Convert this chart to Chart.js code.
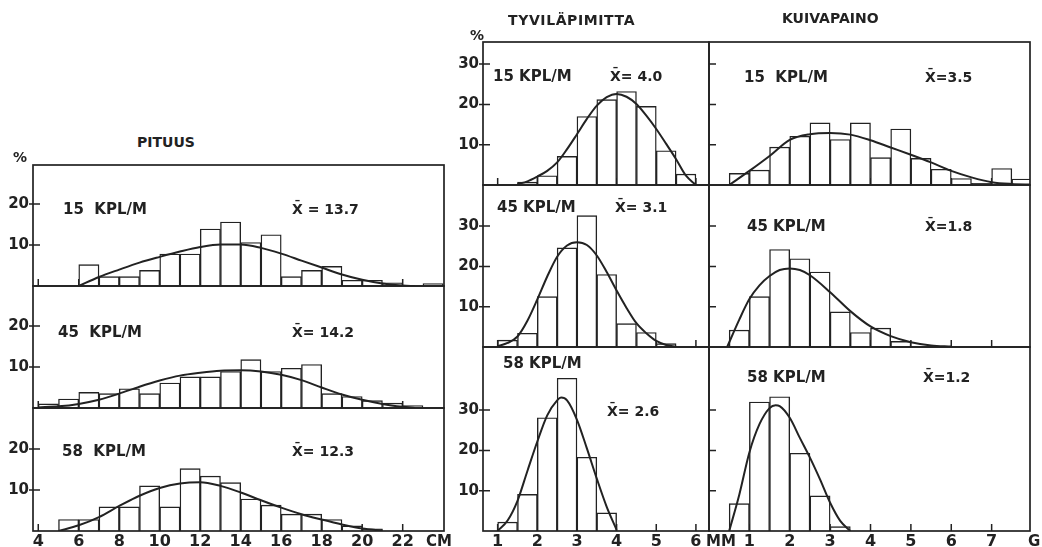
<!DOCTYPE html>
<html>
<head>
<meta charset="utf-8">
<script src="https://cdn.jsdelivr.net/npm/chart.js@4.4.1/dist/chart.umd.min.js"></script>
<style>
  body { margin: 0; background: #fff; }
  #wrap { position: relative; width: 1042px; height: 547px; overflow: hidden; background: #fff; }
  #wrap canvas { position: absolute; }
  .t { position: absolute; font: bold 15px 'DejaVu Sans', sans-serif; color: #222; line-height: 16px; white-space: pre; z-index: 5; }
  .s { font-size: 14px; }
</style>
</head>
<body>
<div id="wrap">
  <div class="t s" style="left:137px;top:134px">PITUUS</div>
  <div class="t s" style="left:508px;top:12px;letter-spacing:0.6px">TYVILÄPIMITTA</div>
  <div class="t s" style="left:782px;top:10px">KUIVAPAINO</div>
  <div class="t s" style="left:13px;top:149px">%</div>
  <div class="t s" style="left:470px;top:27px">%</div>

  <div class="t" style="left:63px;top:201px">15  KPL/M</div>
  <div class="t s" style="left:292px;top:201px">X̄ = 13.7</div>
  <div class="t" style="left:58px;top:324px">45  KPL/M</div>
  <div class="t s" style="left:292px;top:324px">X̄= 14.2</div>
  <div class="t" style="left:62px;top:443px">58  KPL/M</div>
  <div class="t s" style="left:292px;top:443px">X̄= 12.3</div>

  <div class="t" style="left:493px;top:68px">15 KPL/M</div>
  <div class="t s" style="left:610px;top:68px">X̄= 4.0</div>
  <div class="t" style="left:497px;top:199px">45 KPL/M</div>
  <div class="t s" style="left:615px;top:199px">X̄= 3.1</div>
  <div class="t" style="left:503px;top:355px">58 KPL/M</div>
  <div class="t s" style="left:607px;top:403px">X̄= 2.6</div>

  <div class="t" style="left:744px;top:69px">15  KPL/M</div>
  <div class="t s" style="left:925px;top:69px">X̄=3.5</div>
  <div class="t" style="left:747px;top:218px">45 KPL/M</div>
  <div class="t s" style="left:925px;top:218px">X̄=1.8</div>
  <div class="t" style="left:747px;top:369px">58 KPL/M</div>
  <div class="t s" style="left:923px;top:369px">X̄=1.2</div>

  <div class="t" style="left:426px;top:533px">CM</div>
  <div class="t" style="left:706px;top:533px">MM</div>
  <div class="t" style="left:1028px;top:533px">G</div>
</div>
<script>
// tick labels
const cmTicks = [4, 6, 8, 10, 12, 14, 16, 18, 20, 22];
const mmTicks = [1, 2, 3, 4, 5, 6];
const gTicks = [1, 2, 3, 4, 5, 6, 7];
const pctTicksPituus = [10, 20];
const pctTicks = [10, 20, 30];

// class lower limits
const cmBins = [4, 5, 6, 7, 8, 9, 10, 11, 12, 13, 14, 15, 16, 17, 18, 19, 20, 21, 22, 23];
const mmBins = [1, 1.5, 2, 2.5, 3, 3.5, 4, 4.5, 5, 5.5];
const gBins = [0.5, 1, 1.5, 2, 2.5, 3, 3.5, 4, 4.5, 5, 5.5, 6, 6.5, 7, 7.5];

// PITUUS, % per class
const pituus15 = [null, null, 5.2, 2.3, 2.3, 3.8, 7.8, 7.8, 13.9, 15.6, 10.6, 12.5, 2.3, 3.8, 4.8, 1.4, 1.4, 0.8, null, 0.6];
const pituus45 = [1.0, 2.2, 3.8, 3.5, 4.7, 3.5, 6.1, 7.6, 7.6, 8.9, 11.8, 8.9, 9.7, 10.6, 3.5, 2.8, 1.8, 1.2, 0.6, null];
const pituus58 = [null, 2.8, 2.8, 5.9, 5.9, 11.0, 5.9, 15.2, 13.4, 11.8, 7.8, 6.3, 4.1, 4.1, 2.8, 1.25, 0.5, null, null, null];
const pituusFit15X = [6, 7, 8, 9, 10, 11, 12, 13, 14, 15, 16, 17, 18, 19, 20, 21, 22, 22.6];
const pituusFit15Y = [0, 2.2, 4.0, 5.7, 7.1, 8.4, 9.5, 10.1, 10.1, 9.3, 7.9, 6.2, 4.5, 2.8, 1.5, 0.6, 0.1, 0];
const pituusFit45X = [4, 5, 6, 7, 8, 9, 10, 11, 12, 13, 14, 15, 16, 17, 18, 19, 20, 21, 22, 22.6];
const pituusFit45Y = [0.15, 0.4, 1.0, 2.0, 3.5, 5.2, 6.7, 7.9, 8.6, 9.1, 9.2, 8.9, 8.1, 6.8, 5.0, 3.3, 2.0, 1.0, 0.3, 0];
const pituusFit58X = [5, 6, 7, 8, 9, 10, 11, 12, 13, 14, 15, 16, 17, 18, 19, 20, 21];
const pituusFit58Y = [0, 1.4, 3.4, 6.1, 8.6, 10.5, 11.6, 11.9, 11.0, 9.4, 7.5, 5.7, 4.1, 2.8, 1.6, 0.6, 0.1];

// TYVILÄPIMITTA
const lapimitta15 = [null, 0.7, 2.3, 7.1, 17.0, 21.2, 23.2, 19.5, 8.5, 2.7];
const lapimitta45 = [1.7, 3.4, 12.5, 24.6, 32.6, 18.0, 5.8, 3.6, 0.85, null];
const lapimitta58 = [2.2, 9.1, 28.1, 37.9, 18.3, 4.5, null, null, null, null];
const lapimittaFit15X = [1.5, 1.75, 2, 2.25, 2.5, 2.75, 3, 3.25, 3.5, 3.75, 4, 4.25, 4.5, 4.75, 5, 5.25, 5.5, 5.75, 6];
const lapimittaFit15Y = [0.2, 0.9, 2.1, 3.5, 5.6, 8.9, 12.6, 16.4, 19.7, 21.8, 22.6, 21.9, 20.1, 17.2, 13.9, 10.2, 6.4, 2.3, 0];
const lapimittaFit45X = [1, 1.25, 1.5, 1.75, 2, 2.25, 2.5, 2.75, 3, 3.25, 3.5, 3.75, 4, 4.25, 4.5, 4.75, 5, 5.25, 5.5];
const lapimittaFit45Y = [0.2, 1.0, 2.6, 6.5, 11.8, 17.5, 22.4, 25.2, 26.0, 25.3, 22.7, 18.6, 14.0, 9.7, 5.9, 3.4, 1.5, 0.5, 0.1];
const lapimittaFit58X = [1, 1.25, 1.5, 1.75, 2, 2.25, 2.5, 2.6, 2.75, 3, 3.25, 3.5, 3.75, 4];
const lapimittaFit58Y = [0, 2.6, 7.5, 14.9, 22.2, 28.7, 32.4, 33.1, 32.4, 27.6, 20.5, 13.0, 6.0, 0.3];

// KUIVAPAINO
const paino15 = [2.9, 3.7, 9.4, 12.1, 15.4, 11.3, 15.4, 6.8, 13.9, 6.6, 3.9, 1.6, 0.4, 4.1, 1.5];
const paino45 = [4.2, 12.5, 24.2, 21.9, 18.6, 8.7, 3.6, 4.7, 1.4, null, null, null, null, null, null];
const paino58 = [6.8, 32.0, 33.3, 19.3, 8.7, 1.1, null, null, null, null, null, null, null, null, null];
const painoFit15X = [0.5, 1, 1.5, 2, 2.5, 3, 3.5, 4, 4.5, 5, 5.5, 6, 6.5, 7, 7.5, 8];
const painoFit15Y = [0, 3.5, 7.2, 11.2, 12.6, 12.9, 12.5, 11.1, 9.3, 7.5, 5.6, 3.5, 1.9, 0.7, 0.25, 0.1];
const painoFit45X = [0.45, 0.75, 1, 1.25, 1.5, 1.75, 2, 2.25, 2.5, 3, 3.5, 4, 4.5, 5, 5.5, 6];
const painoFit45Y = [0, 6.8, 11.9, 15.3, 17.6, 19.1, 19.5, 19.1, 17.8, 13.6, 8.9, 5.1, 2.7, 1.2, 0.4, 0.1];
const painoFit58X = [0.5, 0.75, 1, 1.25, 1.5, 1.65, 1.75, 2, 2.25, 2.5, 2.75, 3, 3.25, 3.5];
const painoFit58Y = [0, 9.0, 19.5, 26.5, 30.5, 31.2, 31.0, 28.1, 23.1, 18.2, 12.8, 7.0, 2.5, 0];

const INK = '#222';
Chart.defaults.font.family = "'DejaVu Sans', sans-serif";
Chart.defaults.font.weight = 'bold';
Chart.defaults.color = INK;

// panel frame + the small ticks that point into the plot
const framePlugin = {
    id: 'frame',
    beforeDatasetsDraw(chart, args, o) {
        const { ctx, chartArea: a, scales: { x, y } } = chart;
        ctx.save();
        ctx.strokeStyle = INK;
        ctx.lineWidth = 1.5;
        ctx.beginPath();
        o.xTicks.forEach(v => {
            const px = x.getPixelForValue(v);
            ctx.moveTo(px, a.bottom);
            ctx.lineTo(px, a.bottom - 7);
        });
        o.yTicks.forEach(v => {
            const py = y.getPixelForValue(v);
            ctx.moveTo(a.left - o.out, py);
            ctx.lineTo(a.left + 7, py);
        });
        ctx.stroke();
        ctx.restore();
    },
    afterDatasetsDraw(chart) {
        const { ctx, chartArea: a } = chart;
        ctx.save();
        ctx.strokeStyle = INK;
        ctx.lineWidth = 1.7;
        ctx.strokeRect(a.left, a.top, a.width, a.height);
        ctx.restore();
    }
};

// no label overhang padding, the frame must sit exactly where the panel is
function noPad(s) {
    s.paddingTop = 0;
    s.paddingBottom = 0;
    s.paddingLeft = 0;
    s.paddingRight = 0;
}

const colPituus = { left: 33, right: 444, tops: [165, 286, 408, 531], xMin: 3.74, xMax: 24.04, pxPer: 4.1, xTicks: cmTicks, yTicks: pctTicksPituus, out: 4, yLabels: true };
const colLapimitta = { left: 483, right: 709, tops: [42, 185, 347, 531], xMin: 0.63, xMax: 6.33, pxPer: 4.03, xTicks: mmTicks, yTicks: pctTicks, out: 4, yLabels: true };
const colPaino = { left: 709, right: 1030, tops: [42, 185, 347, 531], xMin: 0, xMax: 7.95, pxPer: 4.03, xTicks: gTicks, yTicks: pctTicks, out: 0, yLabels: false };

function makePanel(col, row, bins, values, fitX, fitY) {
    const top = col.tops[row];
    const bottom = col.tops[row + 1];
    const last = row === 2;
    const padL = 40, padT = 4, padR = 4, axisH = last ? 24 : 0;
    const w = bins[1] - bins[0];

    const canvas = document.createElement('canvas');
    canvas.width = col.right - col.left + padL + padR;
    canvas.height = bottom - top + padT + (last ? axisH : 4);
    canvas.style.left = (col.left - padL) + 'px';
    canvas.style.top = (top - padT) + 'px';
    document.getElementById('wrap').appendChild(canvas);

    const config = {
        type: 'bar',
        data: {
            datasets: [
            {
                type: 'line',
                data: fitX.map((x, i) => ({ x: x, y: fitY[i] })),
                borderColor: INK,
                borderWidth: 2,
                pointRadius: 0,
                fill: false,
                cubicInterpolationMode: 'monotone',
                order: 0
            },
            {
                type: 'bar',
                data: bins.map((b, i) => ({ x: b + w / 2, y: values[i] })),
                backgroundColor: '#fff',
                borderColor: INK,
                borderWidth: 1.4,
                barPercentage: 1,
                categoryPercentage: 1,
                order: 1
            }]
        },
        options: {
            responsive: false,
            animation: false,
            layout: { padding: { left: 0, top: padT, right: padR, bottom: last ? 0 : 4 } },
            plugins: {
                legend: { display: false },
                tooltip: { enabled: false },
                frame: { xTicks: col.xTicks, yTicks: col.yTicks, out: col.out }
            },
            scales: {
                x: {
                    type: 'linear',
                    offset: false,
                    min: col.xMin,
                    max: col.xMax,
                    afterBuildTicks: s => { s.ticks = col.xTicks.map(v => ({ value: v })); },
                    afterFit: s => { s.height = axisH; noPad(s); },
                    grid: { display: false, drawTicks: false },
                    border: { display: false },
                    ticks: { display: last, padding: 1, font: { size: 16 }, maxRotation: 0, autoSkip: false }
                },
                y: {
                    min: 0,
                    max: (bottom - top) / col.pxPer,
                    afterBuildTicks: s => { s.ticks = col.yTicks.map(v => ({ value: v })); },
                    afterFit: s => { s.width = padL; noPad(s); },
                    grid: { display: false, drawTicks: false },
                    border: { display: false },
                    ticks: { display: col.yLabels, padding: 4, font: { size: 15 } }
                }
            }
        },
        plugins: [framePlugin]
    };
    return new Chart(canvas.getContext('2d'), config);
}

makePanel(colPituus, 0, cmBins, pituus15, pituusFit15X, pituusFit15Y);
makePanel(colPituus, 1, cmBins, pituus45, pituusFit45X, pituusFit45Y);
makePanel(colPituus, 2, cmBins, pituus58, pituusFit58X, pituusFit58Y);
makePanel(colLapimitta, 0, mmBins, lapimitta15, lapimittaFit15X, lapimittaFit15Y);
makePanel(colLapimitta, 1, mmBins, lapimitta45, lapimittaFit45X, lapimittaFit45Y);
makePanel(colLapimitta, 2, mmBins, lapimitta58, lapimittaFit58X, lapimittaFit58Y);
makePanel(colPaino, 0, gBins, paino15, painoFit15X, painoFit15Y);
makePanel(colPaino, 1, gBins, paino45, painoFit45X, painoFit45Y);
makePanel(colPaino, 2, gBins, paino58, painoFit58X, painoFit58Y);
</script>
</body>
</html>
